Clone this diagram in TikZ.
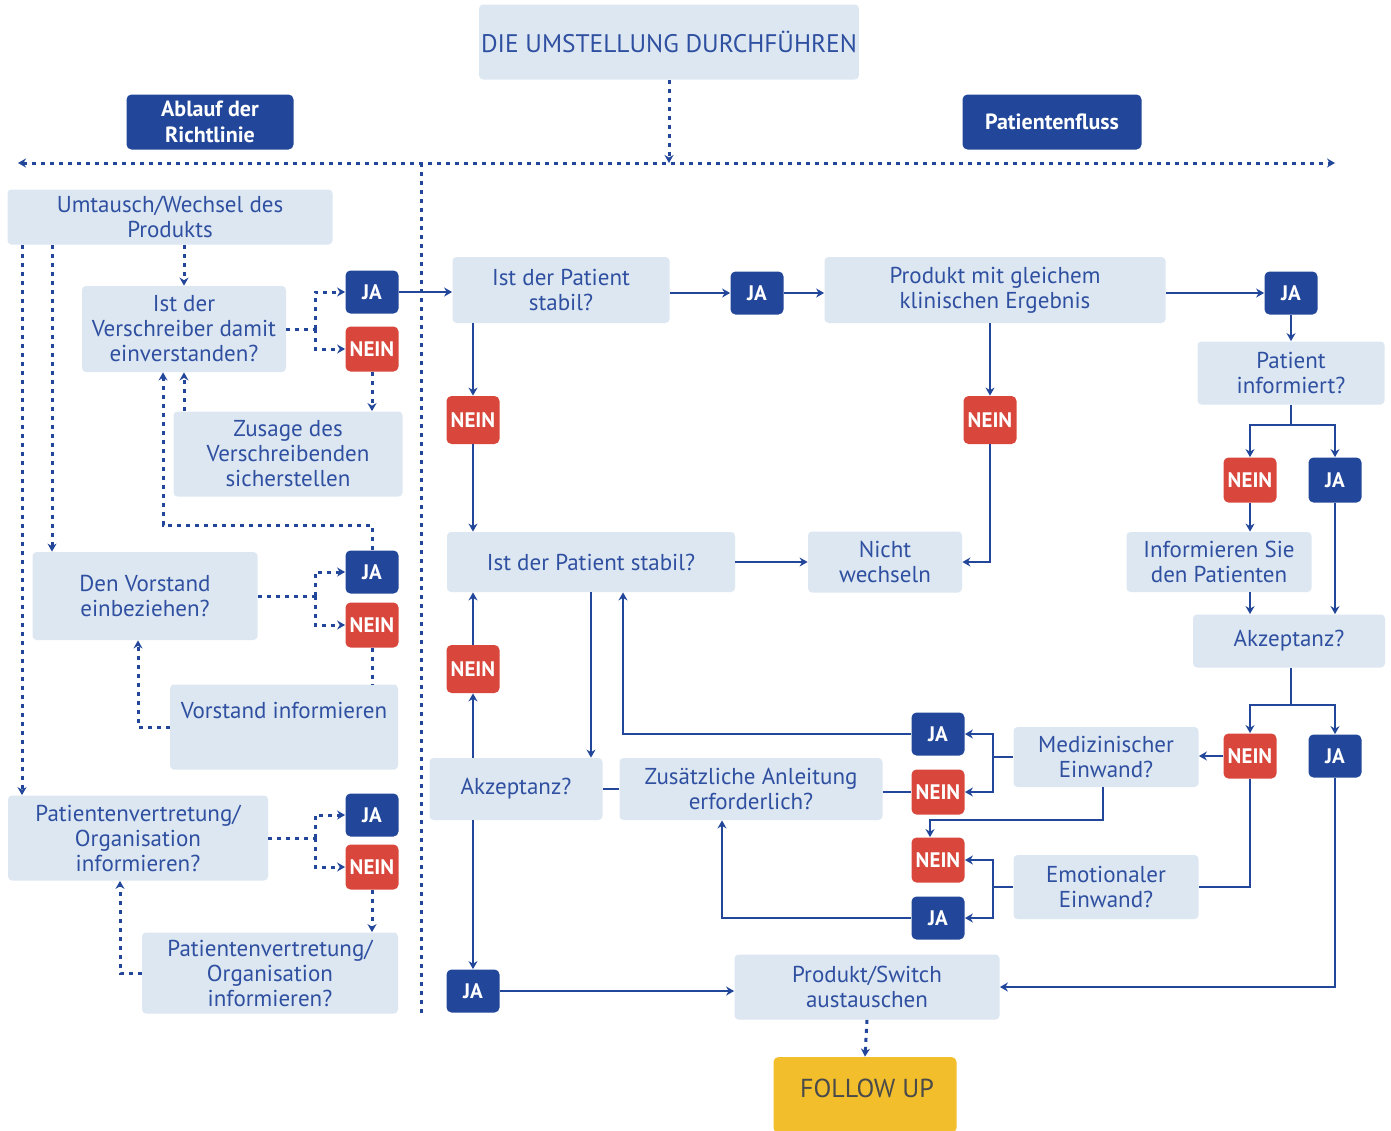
\documentclass[tikz,border=0pt]{standalone}
\usepackage{fontspec}
\setmainfont{PT Sans}
\usetikzlibrary{arrows.meta}
\definecolor{boxfill}{HTML}{DDE7F2}
\definecolor{dblue}{HTML}{22479A}
\definecolor{txtblue}{HTML}{2F50A0}
\definecolor{nred}{HTML}{D9473C}
\definecolor{fuyel}{HTML}{F2BE2C}
\definecolor{futxt}{HTML}{4A4A4A}
\tikzset{
  lbox/.style={fill=boxfill, rounded corners=2pt, text=txtblue, align=center,
    font=\fontsize{11.5}{12.5}\selectfont, inner sep=1pt},
  hdbox/.style={fill=dblue, rounded corners=2.5pt, text=white, align=center,
    font=\fontsize{11}{13}\selectfont\bfseries, inner sep=1pt},
  jabox/.style={fill=dblue, rounded corners=2.5pt, text=white,
    font=\fontsize{10.5}{12}\selectfont\bfseries, minimum width=26.5pt, minimum height=21.5pt, inner sep=0pt},
  neinbox/.style={fill=nred, rounded corners=2.5pt, text=white,
    font=\fontsize{10.5}{12}\selectfont\bfseries, minimum width=26.5pt, minimum height=22.5pt, inner sep=0pt},
  sl/.style={draw=dblue, line width=1.4pt},
  dl/.style={draw=dblue, line width=1.5pt, dash pattern=on 2pt off 2.5pt},
  arr/.style={-{Stealth[length=4pt,width=4.5pt]}},
}
\begin{document}
\begin{tikzpicture}[x=0.5pt,y=-0.5pt]
\useasboundingbox[fill=white] (0,0) rectangle (1391,1130);

% header
\node[lbox, minimum width=189pt, minimum height=37.5pt, font=\fontsize{12.7}{14}\selectfont] (title) at (669,42) {DIE UMSTELLUNG DURCHFÜHREN};
\node[hdbox, minimum width=83.5pt, minimum height=27.5pt] (abl) at (210,122) {Ablauf der\\Richtlinie};
\node[hdbox, minimum width=89.5pt, minimum height=27.5pt] (pfl) at (1052,122) {Patientenfluss};
\coordinate (hl) at (18,163);
\coordinate (hr) at (1335,163);
\coordinate (vt) at (421,163);
\coordinate (vb) at (421,1015);
\draw[dl,{Stealth[length=4pt,width=4.5pt]}-{Stealth[length=4pt,width=4.5pt]}] (hl) -- (hr);
\draw[dl,arr] (title.south) -- (title.south |- hl);
\draw[dl] (vt) -- (vb);

% left column
\node[lbox, minimum width=162.5pt, minimum height=27.5pt] (umt) at (170,217) {Umtausch/Wechsel des\\Produkts};
\node[lbox, minimum width=102pt, minimum height=43pt] (ver) at (184,329) {Ist der\\Verschreiber damit\\einverstanden?};
\node[jabox] (ja1) at (372,292) {JA};
\node[neinbox] (nein1) at (372,349) {NEIN};
\node[lbox, minimum width=114.5pt, minimum height=42.5pt] (zus) at (288,454) {Zusage des\\Verschreibenden\\sicherstellen};
\node[lbox, minimum width=112.5pt, minimum height=44pt] (vor) at (145,596) {Den Vorstand\\einbeziehen?};
\node[jabox] (ja2) at (372,572) {JA};
\node[neinbox] (nein2) at (372,625) {NEIN};
\node[lbox, minimum width=114pt, minimum height=42.5pt] (vinf) at (284,727) {};
\node[text=txtblue, font=\fontsize{11.5}{12.5}\selectfont] (vinft) at (284,710) {Vorstand informieren};
\node[lbox, minimum width=130pt, minimum height=42.5pt] (pv1) at (138,838) {Patientenvertretung/\\Organisation\\informieren?};
\node[jabox] (ja3) at (372,815) {JA};
\node[neinbox] (nein3) at (372,867) {NEIN};
\node[lbox, minimum width=128pt, minimum height=40.5pt] (pv2) at (270,973) {Patientenvertretung/\\Organisation\\informieren?};

\coordinate (b1) at (315,0);
\coordinate (l1) at (22,0);
\coordinate (l2) at (52,0);
\coordinate (l3) at (138,0);
\coordinate (l4) at (120,0);
\coordinate (c163) at (163,525);

\draw[dl,arr] (ver.north |- umt.south) -- (ver.north);
\draw[dl] (ver.east) -- (ver.east -| b1);
\draw[dl,arr] (ver.east -| b1) |- (ja1.west);
\draw[dl,arr] (ver.east -| b1) |- (nein1.west);
\draw[dl,arr] (nein1.south) -- (nein1.south |- zus.north);
\draw[dl,arr] (ver.south |- zus.north) -- (ver.south);
\draw[dl,arr] (ja2.north) |- (c163) -- (c163 |- ver.south);
\draw[dl,arr] (umt.south -| l1) -- (pv1.north -| l1);
\draw[dl,arr] (umt.south -| l2) -- (vor.north -| l2);
\draw[dl] (vor.east) -- (vor.east -| b1);
\draw[dl,arr] (vor.east -| b1) |- (ja2.west);
\draw[dl,arr] (vor.east -| b1) |- (nein2.west);
\draw[dl] (nein2.south) -- (nein2.south |- vinf.north);
\draw[dl,arr] (vinf.west) -| (vor.south -| l3);
\draw[dl] (pv1.east) -- (pv1.east -| b1);
\draw[dl,arr] (pv1.east -| b1) |- (ja3.west);
\draw[dl,arr] (pv1.east -| b1) |- (nein3.west);
\draw[dl,arr] (nein3.south) -- (nein3.south |- pv2.north);
\draw[dl,arr] (pv2.west) -| (pv1.south -| l4);

% right part
\node[lbox, minimum width=108.5pt, minimum height=33pt] (A) at (561,290) {Ist der Patient\\stabil?};
\node[jabox] (ja4) at (757,293) {JA};
\node[lbox, minimum width=170.5pt, minimum height=33pt] (P) at (995,290) {Produkt mit gleichem\\klinischen Ergebnis};
\node[jabox] (ja5) at (1291,293) {JA};
\node[neinbox, minimum height=24pt] (nein4) at (473,420) {NEIN};
\node[neinbox, minimum height=24pt] (nein5) at (990,420) {NEIN};
\node[lbox, minimum width=93.5pt, minimum height=31.5pt] (pinf) at (1291,373) {Patient\\informiert?};
\node[neinbox] (nein6) at (1250,480) {NEIN};
\node[jabox, minimum height=22.5pt] (ja6) at (1335,480) {JA};
\node[lbox, minimum width=92.5pt, minimum height=30pt] (infs) at (1219,562) {Informieren Sie\\den Patienten};
\node[lbox, minimum width=96pt, minimum height=26.5pt] (akzR) at (1289,641) {Akzeptanz?};
\node[lbox, minimum width=144pt, minimum height=30pt] (B) at (591,562) {Ist der Patient stabil?};
\node[lbox, minimum width=77pt, minimum height=30.5pt] (nw) at (885,562) {Nicht\\wechseln};
\node[neinbox, minimum height=24pt] (nein7) at (473,669) {NEIN};
\node[lbox, minimum width=86.5pt, minimum height=31pt] (akzL) at (516,789) {Akzeptanz?};
\node[lbox, minimum width=131.5pt, minimum height=31pt] (zan) at (751,789) {Zusätzliche Anleitung\\erforderlich?};
\node[jabox] (ja7) at (938,734) {JA};
\node[neinbox] (nein8) at (938,792) {NEIN};
\node[lbox, minimum width=92.5pt, minimum height=30pt] (med) at (1106,757) {Medizinischer\\Einwand?};
\node[neinbox] (nein9) at (1250,756) {NEIN};
\node[jabox] (ja8) at (1335,756) {JA};
\node[neinbox] (nein10) at (938,860) {NEIN};
\node[jabox] (ja9) at (938,918) {JA};
\node[lbox, minimum width=92.5pt, minimum height=32pt] (emo) at (1106,887) {Emotionaler\\Einwand?};
\node[jabox] (ja10) at (473,991) {JA};
\node[lbox, minimum width=132.5pt, minimum height=32.5pt] (pswi) at (867,987) {Produkt/Switch\\austauschen};
\node[fill=fuyel, rounded corners=2.5pt, minimum width=91.5pt, minimum height=38pt] (fu) at (865,1095) {};
\node[text=futxt, font=\fontsize{13}{15}\selectfont] (fut) at (867,1088) {FOLLOW UP};

\coordinate (s1) at (1291,425);
\coordinate (s2) at (1291,705);
\coordinate (b2) at (993,0);
\coordinate (m1) at (1103,820);
\coordinate (m2) at (930,820);
\coordinate (x623) at (623,0);
\coordinate (x591) at (591,0);
\coordinate (x722) at (722,0);

\draw[sl,arr] (ja1.east) -- (ja1.east -| A.west);
\draw[sl,arr] (A.east |- ja4) -- (ja4.west);
\draw[sl,arr] (ja4.east) -- (ja4.east -| P.west);
\draw[sl,arr] (P.east |- ja5) -- (ja5.west);
\draw[sl,arr] (ja5.south) -- (pinf.north);
\draw[sl,arr] (A.south -| nein4) -- (nein4.north);
\draw[sl,arr] (nein4.south) -- (nein4.south |- B.north);
\draw[sl,arr] (P.south -| nein5) -- (nein5.north);
\draw[sl,arr] (nein5.south) |- (nw.east);
\draw[sl,arr] (B.east |- nw) -- (nw.west);
\draw[sl] (pinf.south) -- (s1);
\draw[sl,arr] (s1) -| (nein6.north);
\draw[sl,arr] (s1) -| (ja6.north);
\draw[sl,arr] (nein6.south) -- (nein6.south |- infs.north);
\draw[sl,arr] (infs.south -| nein6) -- (akzR.north -| nein6);
\draw[sl,arr] (ja6.south) -- (ja6.south |- akzR.north);
\draw[sl] (akzR.south -| s2) -- (s2);
\draw[sl,arr] (s2) -| (nein9.north);
\draw[sl,arr] (s2) -| (ja8.north);
\draw[sl,arr] (nein9.west) -- (nein9.west -| med.east);
\draw[sl] (nein9.south) |- (emo.east);
\draw[sl,arr] (ja8.south) |- (pswi.east);
\draw[sl] (med.west) -- (med.west -| b2);
\draw[sl,arr] (med.west -| b2) |- (ja7.east);
\draw[sl,arr] (med.west -| b2) |- (nein8.east);
\draw[sl,arr] (med.south -| m1) -- (m1) -- (m2) -- (m2 |- nein10.north);
\draw[sl] (emo.west) -- (emo.west -| b2);
\draw[sl,arr] (emo.west -| b2) |- (nein10.east);
\draw[sl,arr] (emo.west -| b2) |- (ja9.east);
\draw[sl,arr] (ja7.west) -| (B.south -| x623);
\draw[sl,arr] (B.south -| x591) -- (akzL.north -| x591);
\draw[sl] (zan.east |- nein8) -- (nein8.west);
\draw[sl] (zan.west) -- (akzL.east);
\draw[sl,arr] (ja9.west) -| (zan.south -| x722);
\draw[sl,arr] (akzL.north -| nein7) -- (nein7.south);
\draw[sl,arr] (nein7.north) -- (nein7.north |- B.south);
\draw[sl,arr] (akzL.south -| ja10) -- (ja10.north);
\draw[sl,arr] (ja10.east) -- (ja10.east -| pswi.west);
\draw[dl,arr] (pswi.south) -- (fu.north);
\end{tikzpicture}
\end{document}
